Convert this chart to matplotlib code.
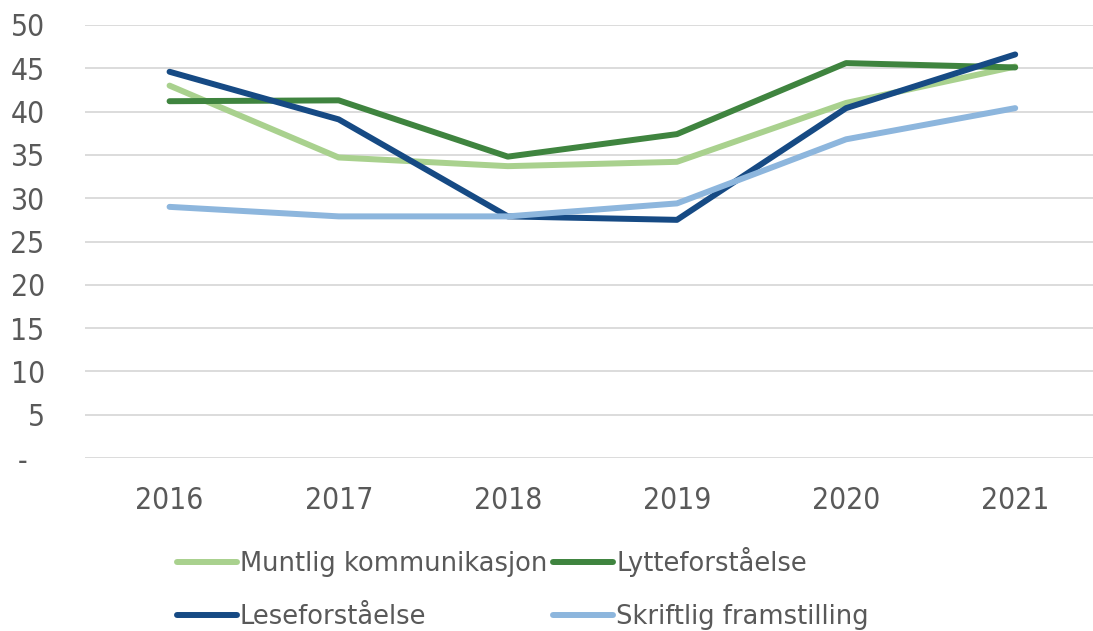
import matplotlib
matplotlib.use("Agg")
import matplotlib.pyplot as plt

years = ["2016", "2017", "2018", "2019", "2020", "2021"]
muntlig = [43.0, 34.7, 33.7, 34.2, 41.0, 45.2]
lytte = [41.2, 41.3, 34.8, 37.4, 45.6, 45.1]
lese = [44.6, 39.1, 27.9, 27.5, 40.4, 46.6]
skriftlig = [29.0, 27.9, 27.9, 29.4, 36.8, 40.4]

series = [
    ("Muntlig kommunikasjon", muntlig, "#a9d18e"),
    ("Lytteforståelse", lytte, "#3f843f"),
    ("Leseforståelse", lese, "#164a84"),
    ("Skriftlig framstilling", skriftlig, "#8db6dd"),
]

plt.rcParams['font.family'] = ['DejaVu Sans']
fig = plt.figure(figsize=(10.93, 6.31), dpi=100)
ax = fig.add_axes([85/1093, 1 - 458/631, (1093 - 85)/1093, (458 - 25)/631])

x = list(range(len(years)))
lines = {}
for name, vals, col in series:
    lines[name], = ax.plot(x, vals, color=col, lw=4.3, solid_capstyle='round', label=name)

ax.set_ylim(0, 50)
ax.set_xlim(-0.5, 5.46)
ax.set_yticks(range(0, 51, 5))
ax.set_yticklabels(["-  "] + [str(v) for v in range(5, 51, 5)])
ax.set_xticks(x)
ax.set_xticklabels(years)
ax.tick_params(axis='both', length=0, colors='#595959')
ax.tick_params(axis='y', pad=29)
ax.tick_params(axis='x', pad=20)
for lab in ax.get_xticklabels() + ax.get_yticklabels():
    lab.set_fontsize(21.5)
    lab.set_fontstretch('condensed')
ax.grid(axis='y', color='#d9d9d9', lw=1.3)
ax.set_axisbelow(True)
for s in ax.spines.values():
    s.set_visible(False)

order = ["Muntlig kommunikasjon", "Leseforståelse", "Lytteforståelse", "Skriftlig framstilling"]
leg = fig.legend([lines[n] for n in order], order, ncol=2, loc='upper left',
                 bbox_to_anchor=(177/1093, 1 - 547/631), frameon=False,
                 borderpad=0, borderaxespad=0,
                 fontsize=18.5, handlelength=2.33, handletextpad=0.12,
                 columnspacing=0.23, labelspacing=1.05, labelcolor='#595959')

fig.savefig("out.png", dpi=100)
